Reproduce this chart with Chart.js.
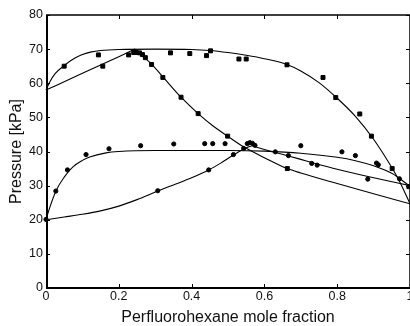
<!DOCTYPE html>
<html>
<head>
<meta charset="utf-8">
<script src="https://cdn.jsdelivr.net/npm/chart.js@4/dist/chart.umd.min.js"></script>
<style>
  body { margin: 0; background: #fff; overflow: hidden; }
</style>
</head>
<body>
<canvas id="chart" width="410" height="326"></canvas>
<script>
// measured points (squares and circles)
const sqX = [0.050, 0.144, 0.156, 0.227, 0.241, 0.248, 0.257, 0.265, 0.273, 0.290, 0.321, 0.342, 0.371, 0.395, 0.418, 0.441, 0.452, 0.499, 0.530, 0.550, 0.662, 0.663, 0.761, 0.796, 0.862, 0.894, 0.951, 0.997];
const sqY = [65.0, 68.3, 65.0, 68.3, 69.0, 69.0, 68.9, 68.4, 67.5, 65.5, 61.7, 68.9, 55.9, 68.7, 51.1, 68.1, 69.5, 44.5, 67.1, 67.1, 65.4, 35.0, 61.7, 55.8, 51.0, 44.5, 35.0, 29.7];

const ciX = [0.000, 0.027, 0.059, 0.110, 0.173, 0.260, 0.307, 0.351, 0.436, 0.447, 0.458, 0.492, 0.515, 0.543, 0.553, 0.560, 0.567, 0.574, 0.630, 0.666, 0.700, 0.730, 0.745, 0.813, 0.850, 0.884, 0.908, 0.913, 0.971];
const ciY = [20.1, 28.4, 34.6, 39.1, 40.8, 41.7, 28.5, 42.2, 42.3, 34.6, 42.3, 42.3, 39.1, 40.9, 42.3, 42.6, 42.4, 41.8, 39.9, 38.8, 41.7, 36.5, 36.0, 39.9, 38.8, 31.9, 36.6, 36.1, 32.0];

// model curves
const aX = [0, 0.01, 0.025, 0.05, 0.075, 0.1, 0.125, 0.15, 0.2, 0.3, 0.4, 0.45, 0.5, 0.55, 0.6, 0.662, 0.7, 0.75, 0.8, 0.85, 0.9, 0.95, 0.97, 1.0];
const aY = [58, 60.3, 62.8, 65.2, 67.1, 68.4, 69.2, 69.6, 69.9, 70.0, 69.9, 69.6, 69.0, 68.2, 67.2, 65.5, 63.6, 60.2, 55.6, 50.3, 43.6, 35.3, 31.5, 24.7];

const bUpX = [0, 0.1, 0.2, 0.245];
const bUpY = [58, 62.9, 67.8, 70.0];
const bDnX = [0.245, 0.26, 0.29, 0.32, 0.371, 0.418, 0.46, 0.499, 0.544, 0.6, 0.663, 0.7, 0.8, 0.9, 1.0];
const bDnY = [70.0, 68.5, 65.6, 62.0, 55.9, 51.1, 47.4, 44.5, 41.3, 38.2, 35.0, 33.7, 30.6, 27.6, 24.7];

const cX = [0, 0.01, 0.028, 0.05, 0.074, 0.1, 0.12, 0.165, 0.2, 0.3, 0.4, 0.5, 0.6, 0.7, 0.8, 0.85, 0.9, 0.95, 1.0];
const cY = [20, 23.5, 28.6, 32.5, 35.5, 37.4, 38.4, 39.6, 40.0, 40.3, 40.3, 40.3, 40.1, 39.5, 38.3, 37.3, 35.8, 33.6, 29.8];

const dUpX = [0, 0.05, 0.1, 0.15, 0.2, 0.25, 0.307, 0.35, 0.4, 0.447, 0.48, 0.514, 0.543, 0.565];
const dUpY = [20, 20.8, 21.6, 22.6, 24.0, 25.9, 28.4, 30.2, 32.3, 34.6, 36.6, 38.9, 40.7, 41.7];
const dDnX = [0.565, 0.6, 0.63, 0.666, 0.7, 0.73, 0.8, 0.9, 1.0];
const dDnY = [41.7, 40.6, 39.7, 38.7, 37.7, 36.8, 34.8, 32.3, 30.0];

const xTicks = [0, 0.2, 0.4, 0.6, 0.8, 1];
const yTicks = [0, 10, 20, 30, 40, 50, 60, 70, 80];

function pts(xs, ys) {
  return xs.map((x, i) => ({x: x, y: ys[i]}));
}

function curve(xs, ys) {
  return {
    data: pts(xs, ys),
    showLine: true,
    borderColor: '#000',
    borderWidth: 1.1,
    pointRadius: 0,
    cubicInterpolationMode: 'monotone',
    clip: false
  };
}

// 画框和朝内的刻度
const framePlugin = {
  id: 'frame',
  afterDraw(chart) {
    const {ctx, chartArea: a, scales: {x, y}} = chart;
    ctx.save();
    ctx.strokeStyle = '#000';
    ctx.lineWidth = 1.5;
    ctx.beginPath();
    ctx.moveTo(a.left, a.top);
    ctx.lineTo(a.right, a.top);
    ctx.lineTo(a.right, a.bottom);
    ctx.stroke();
    ctx.lineWidth = 2;
    ctx.beginPath();
    ctx.moveTo(a.left + 1, a.top);
    ctx.lineTo(a.left + 1, a.bottom);
    ctx.lineTo(a.right, a.bottom);
    ctx.stroke();
    ctx.lineWidth = 1;
    const len = 4;
    ctx.beginPath();
    xTicks.forEach(v => {
      const px = Math.round(x.getPixelForValue(v)) + 0.5;
      ctx.moveTo(px, a.bottom); ctx.lineTo(px, a.bottom - len);
      ctx.moveTo(px, a.top); ctx.lineTo(px, a.top + len);
    });
    yTicks.forEach(v => {
      const py = Math.round(y.getPixelForValue(v)) + 0.5;
      ctx.moveTo(a.left, py); ctx.lineTo(a.left + len, py);
      ctx.moveTo(a.right, py); ctx.lineTo(a.right - len, py);
    });
    ctx.stroke();
    ctx.restore();
  }
};

const tickFont = {family: 'Liberation Sans, Arial, sans-serif', size: 12.5, lineHeight: 1};
const titleFont = {family: 'Liberation Sans, Arial, sans-serif', size: 16, lineHeight: 1};

new Chart(document.getElementById('chart'), {
  type: 'scatter',
  data: {
    datasets: [
      curve(aX, aY),
      curve(bUpX, bUpY),
      curve(bDnX, bDnY),
      curve(cX, cY),
      curve(dUpX, dUpY),
      curve(dDnX, dDnY),
      {
        data: pts(sqX, sqY),
        pointStyle: 'rect',
        pointRadius: 2.8,
        backgroundColor: '#000',
        borderColor: '#000',
        borderWidth: 1,
        clip: false
      },
      {
        data: pts(ciX, ciY),
        pointStyle: 'circle',
        pointRadius: 2.1,
        backgroundColor: '#000',
        borderColor: '#000',
        borderWidth: 1,
        clip: false
      }
    ]
  },
  options: {
    responsive: false,
    animation: false,
    layout: {autoPadding: false, padding: {top: 15, right: 0, left: 0, bottom: 0}},
    plugins: {legend: {display: false}, tooltip: {enabled: false}},
    scales: {
      x: {
        type: 'linear', min: 0, max: 1,
        grid: {display: false, drawTicks: false},
        border: {display: false},
        ticks: {padding: 2, color: '#111', font: tickFont, maxRotation: 0, callback: v => String(v)},
        afterBuildTicks: s => { s.ticks = xTicks.map(v => ({value: v})); },
        title: {display: true, text: 'Perfluorohexane mole fraction', color: '#111', font: titleFont, padding: 0},
        afterFit: s => { s.height = 38; s.paddingLeft = 0; s.paddingRight = 0; }
      },
      y: {
        type: 'linear', min: 0, max: 80,
        grid: {display: false, drawTicks: false},
        border: {display: false},
        ticks: {padding: 3, color: '#111', font: tickFont, callback: v => String(v)},
        afterBuildTicks: s => { s.ticks = yTicks.map(v => ({value: v})); },
        title: {display: true, text: 'Pressure [kPa]', color: '#111', font: titleFont, padding: {top: 9, bottom: 0}},
        afterFit: s => { s.width = 46; s.paddingTop = 0; s.paddingBottom = 0; }
      }
    }
  },
  plugins: [framePlugin]
});
</script>
</body>
</html>
